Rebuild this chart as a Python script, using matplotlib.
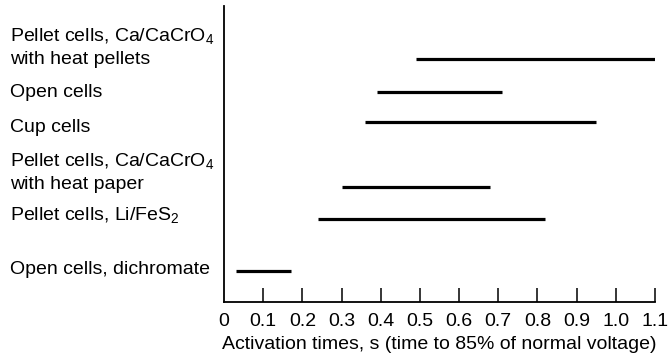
import matplotlib
matplotlib.use("Agg")
import matplotlib.pyplot as plt
from matplotlib import transforms

plt.rcParams['font.family'] = ['Liberation Sans', 'DejaVu Sans']
plt.rcParams['mathtext.fontset'] = 'custom'
plt.rcParams['mathtext.rm'] = 'Liberation Sans'
plt.rcParams['mathtext.it'] = 'Liberation Sans:italic'
plt.rcParams['mathtext.bf'] = 'Liberation Sans:bold'

categories = [
    "Pellet cells, Ca/CaCrO$_4$\nwith heat pellets",
    "Open cells",
    "Cup cells",
    "Pellet cells, Ca/CaCrO$_4$\nwith heat paper",
    "Pellet cells, Li/FeS$_2$",
    "Open cells, dichromate",
]
start_s = [0.49, 0.39, 0.36, 0.30, 0.24, 0.03]
end_s = [1.10, 0.71, 0.95, 0.68, 0.82, 0.17]
# vertical row positions (irregular spacing as in the original)
row_pos = [24.3, 21.0, 18.0, 11.5, 8.3, 3.1]
label_pos = [25.5, 21.0, 17.5, 13.0, 8.7, 3.3]
tick_values = [0.1, 0.2, 0.3, 0.4, 0.5, 0.6, 0.7, 0.8, 0.9, 1.0, 1.1]
tick_labels = ["0", "0.1", "0.2", "0.3", "0.4", "0.5", "0.6", "0.7", "0.8", "0.9", "1.0", "1.1"]
xlabel = "Activation times, s (time to 85% of normal voltage)"

fig = plt.figure(figsize=(6.69, 3.54), dpi=100)
ax = fig.add_axes([224/669, 1 - 302/354, (655 - 224)/669, (302 - 6)/354])
ax.set_xlim(0, 1.1)
ax.set_ylim(0, 29.6)

for y, s, e in zip(row_pos, start_s, end_s):
    ax.plot([s, e], [y, y], color='black', lw=2.3, solid_capstyle='butt')

for sp in ['top', 'right']:
    ax.spines[sp].set_visible(False)
ax.spines['left'].set_linewidth(1.3)
ax.spines['bottom'].set_linewidth(1.3)

ax.set_yticks([])
ax.set_xticks([0] + tick_values)
ax.set_xticklabels(tick_labels, fontsize=14)
ax.tick_params(axis='x', direction='in', length=10, width=1.1, pad=8)
ax.xaxis.get_major_ticks()[0].tick1line.set_visible(False)
ax.set_xlabel(xlabel, fontsize=14, labelpad=4)

trans = transforms.blended_transform_factory(fig.transFigure, ax.transData)
for lab, y in zip(categories, label_pos):
    ax.text(10/669, y, lab, transform=trans, ha='left', va='center',
            fontsize=14, linespacing=1.35)

fig.savefig("out.png", dpi=100)
